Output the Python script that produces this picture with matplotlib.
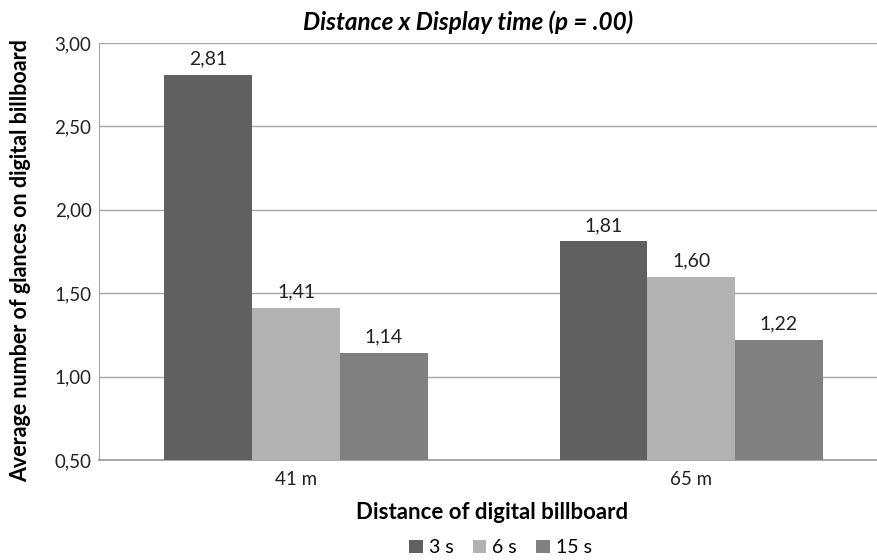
import numpy as np
import matplotlib
matplotlib.use("Agg")
from matplotlib import pyplot as plt

# chart data
categories = ["41 m", "65 m"]
series = ["3 s", "6 s", "15 s"]
values_3s = [2.81, 1.81]
values_6s = [1.41, 1.60]
values_15s = [1.14, 1.22]
colors = ["#606060", "#b2b2b2", "#808080"]

plt.rcParams['font.family'] = ['Lato', 'DejaVu Sans']

fig = plt.figure(figsize=(8.78, 5.6), dpi=100)
ax = fig.add_axes([0.1122, 0.1786, 0.90, 0.7446])

x = np.arange(len(categories))
width = 0.222
for i, (name, vals) in enumerate(zip(series, [values_3s, values_6s, values_15s])):
    pos = x + (i - 1) * width
    ax.bar(pos, np.array(vals) - 0.5, width, bottom=0.5,
           color=colors[i], label=name, zorder=3)
    for p, v in zip(pos, vals):
        ax.text(p, v + 0.045, f"{v:.2f}".replace(".", ","), ha="center",
                va="bottom", fontsize=14, color="#222222")

ax.set_xlim(-0.5, 1.5)
ax.set_ylim(0.5, 3.0)
ticks = np.arange(0.5, 3.01, 0.5)
ax.set_yticks(ticks)
ax.set_yticklabels([f"{t:.2f}".replace(".", ",") for t in ticks])
ax.set_xticks(x)
ax.set_xticklabels(categories)
ax.tick_params(axis="y", length=0, labelsize=13.5, colors="#222222", pad=5)
ax.tick_params(axis="x", length=0, labelsize=13.5, colors="#222222", pad=8)
ax.grid(axis="y", color="#a6a6a6", linewidth=1, zorder=0)
for s in ["top", "right"]:
    ax.spines[s].set_visible(False)
ax.spines["left"].set_color("#a6a6a6")
ax.spines["bottom"].set_color("#a0a0a0")
ax.spines["bottom"].set_linewidth(1.3)

fig.text(0.533, 0.96, "Distance x Display time (p = .00)", ha="center",
         va="center", fontsize=17.5, fontweight="bold", style="italic")
fig.text(0.56, 0.085, "Distance of digital billboard", ha="center",
         va="center", fontsize=16, fontweight="bold")
fig.text(0.023, 0.535, "Average number of glances on digital billboard",
         rotation=90, ha="center", va="center", fontsize=15.5, fontweight="bold")

fig.legend(loc="center", bbox_to_anchor=(0.57, 0.022), ncol=3, frameon=False,
           fontsize=14, handlelength=0.7, handleheight=0.7, handletextpad=0.3,
           columnspacing=1.0)

fig.savefig("out.png", dpi=100)
